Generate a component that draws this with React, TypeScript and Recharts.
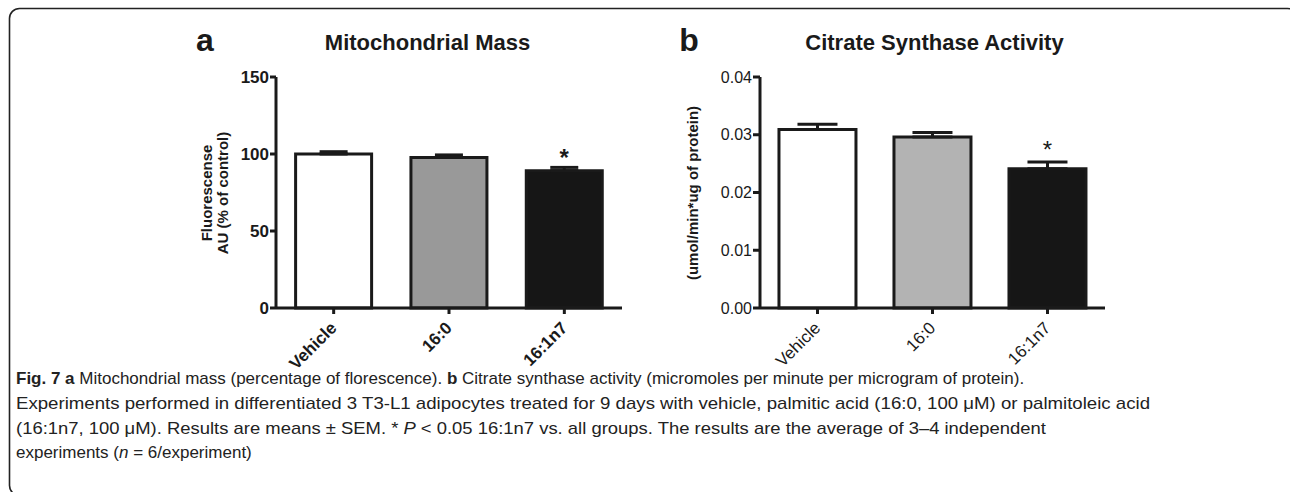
import React from 'react';
import { BarChart, Bar, XAxis, YAxis, ErrorBar, Cell, LabelList } from 'recharts';

const categories = ['Vehicle', '16:0', '16:1n7'];
const massValues = [100, 97.8, 89.2];
const massSem = [1.5, 1.6, 2.1];
const csValues = [0.0309, 0.0296, 0.0241];
const csSem = [0.0009, 0.0008, 0.0012];
const significance = ['', '', '*'];
const massTicks = [0, 50, 100, 150];
const csTicks = [0, 0.01, 0.02, 0.03, 0.04];
const massFills = ['#ffffff', '#999999', '#161616'];
const csFills = ['#ffffff', '#b3b3b3', '#161616'];

const massData = categories.map((c, i) => ({
  name: c,
  value: massValues[i],
  err: [0, massSem[i]],
  sem: massSem[i],
  sig: significance[i],
}));
const csData = categories.map((c, i) => ({
  name: c,
  value: csValues[i],
  err: [0, csSem[i]],
  sem: csSem[i],
  sig: significance[i],
}));

const FONT = 'Liberation Sans, Arial, sans-serif';
const INK = '#1a1a1a';

const makeXTick = (bold: boolean) => (props: any) => {
  const { x, y, payload } = props;
  const tx = x + 4;
  const ty = y + 13;
  return (
    <text
      x={tx}
      y={ty}
      transform={`rotate(-45, ${tx}, ${ty})`}
      textAnchor="end"
      fontFamily={FONT}
      fontSize={17}
      fontWeight={bold ? 700 : 400}
      fill={INK}
    >
      {payload.value}
    </text>
  );
};

const makeStar = (data: any[], bold: boolean) => (props: any) => {
  const { x, y, width, height, index } = props;
  const d = data[index];
  if (!d || !d.sig) return null;
  const capY = y - (height * d.sem) / d.value;
  return (
    <text
      x={x + width / 2}
      y={capY + (bold ? -1 : -4)}
      textAnchor="middle"
      fontFamily={FONT}
      fontSize={24}
      fontWeight={bold ? 700 : 400}
      fill={INK}
    >
      {d.sig}
    </text>
  );
};

export default function App() {
  return (
    <div style={{ position: 'absolute', left: 0, top: 0, width: 1290, height: 492, background: '#fff', overflow: 'hidden' }}>
      <div style={{ position: 'absolute', left: 0, top: 0 }}>
        <BarChart width={640} height={400} data={massData} margin={{ top: 77, right: 18, bottom: 62, left: 0 }} barCategoryGap="17%">
          <XAxis
            dataKey="name"
            height={30}
            interval={0}
            tickSize={6}
            tickMargin={2}
            axisLine={{ stroke: INK, strokeWidth: 3 }}
            tickLine={{ stroke: INK, strokeWidth: 3 }}
            tick={makeXTick(true)}
          />
          <YAxis
            width={276}
            domain={[0, 150]}
            ticks={massTicks}
            interval={0}
            tickSize={6}
            tickMargin={1}
            axisLine={{ stroke: INK, strokeWidth: 3 }}
            tickLine={{ stroke: INK, strokeWidth: 3 }}
            tick={{ fontFamily: FONT, fontSize: 17, fontWeight: 700, fill: INK }}
          />
          <Bar dataKey="value" stroke={INK} strokeWidth={3} isAnimationActive={false}>
            {massData.map((d, i) => (
              <Cell key={d.name} fill={massFills[i]} />
            ))}
            <ErrorBar dataKey="err" width={14} stroke={INK} strokeWidth={3} direction="y" />
            <LabelList dataKey="sig" content={makeStar(massData, true)} />
          </Bar>
        </BarChart>
      </div>
      <div style={{ position: 'absolute', left: 640, top: 0 }}>
        <BarChart width={650} height={400} data={csData} margin={{ top: 77, right: 185, bottom: 62, left: 0 }} barCategoryGap="16.5%">
          <XAxis
            dataKey="name"
            height={30}
            interval={0}
            tickSize={6}
            tickMargin={2}
            axisLine={{ stroke: INK, strokeWidth: 3 }}
            tickLine={{ stroke: INK, strokeWidth: 3 }}
            tick={makeXTick(false)}
          />
          <YAxis
            width={120}
            domain={[0, 0.04]}
            ticks={csTicks}
            interval={0}
            tickSize={7}
            tickMargin={1}
            tickFormatter={(v: number) => v.toFixed(2)}
            axisLine={{ stroke: INK, strokeWidth: 3 }}
            tickLine={{ stroke: INK, strokeWidth: 3 }}
            tick={{ fontFamily: FONT, fontSize: 16, fontWeight: 400, fill: INK }}
          />
          <Bar dataKey="value" stroke={INK} strokeWidth={3} isAnimationActive={false}>
            {csData.map((d, i) => (
              <Cell key={d.name} fill={csFills[i]} />
            ))}
            <ErrorBar dataKey="err" width={20} stroke={INK} strokeWidth={3} direction="y" />
            <LabelList dataKey="sig" content={makeStar(csData, false)} />
          </Bar>
        </BarChart>
      </div>
      <svg width={1290} height={492} style={{ position: 'absolute', left: 0, top: 0, pointerEvents: 'none' }}>
        <rect x={9.5} y={8.5} width={1288} height={487} rx={10} ry={10} fill="none" stroke="#222" strokeWidth={1.6} />
        <text x={205} y={51} textAnchor="middle" fontFamily={FONT} fontWeight={700} fontSize={32} fill={INK}>a</text>
        <text x={427.5} y={50} textAnchor="middle" fontFamily={FONT} fontWeight={700} fontSize={22} fill={INK}>Mitochondrial Mass</text>
        <text x={689} y={51} textAnchor="middle" fontFamily={FONT} fontWeight={700} fontSize={32} fill={INK}>b</text>
        <text x={934.5} y={50} textAnchor="middle" fontFamily={FONT} fontWeight={700} fontSize={22} fill={INK}>Citrate Synthase Activity</text>
        <text transform="translate(212, 193) rotate(-90)" textAnchor="middle" fontFamily={FONT} fontWeight={700} fontSize={15} fill={INK}>Fluorescense</text>
        <text transform="translate(228, 193) rotate(-90)" textAnchor="middle" fontFamily={FONT} fontWeight={700} fontSize={15} fill={INK}>AU (% of control)</text>
        <text transform="translate(698, 193) rotate(-90)" textAnchor="middle" fontFamily={FONT} fontWeight={700} fontSize={15} fill={INK}>(umol/min*ug of protein)</text>
        <g fontFamily={FONT} fontSize={17} fill="#222">
          <text x={16} y={384}>
            <tspan fontWeight={700}>Fig. 7 a</tspan> Mitochondrial mass (percentage of florescence). <tspan fontWeight={700}>b</tspan> Citrate synthase activity (micromoles per minute per microgram of protein).
          </text>
          <text x={16} y={409} textLength={1134} lengthAdjust="spacingAndGlyphs">
            Experiments performed in differentiated 3 T3-L1 adipocytes treated for 9 days with vehicle, palmitic acid (16:0, 100 μM) or palmitoleic acid
          </text>
          <text x={16} y={434} textLength={1030} lengthAdjust="spacingAndGlyphs">
            (16:1n7, 100 μM). Results are means ± SEM. * <tspan fontStyle="italic">P</tspan> &lt; 0.05 16:1n7 vs. all groups. The results are the average of 3–4 independent
          </text>
          <text x={16} y={458}>
            experiments (<tspan fontStyle="italic">n</tspan> = 6/experiment)
          </text>
        </g>
      </svg>
    </div>
  );
}
